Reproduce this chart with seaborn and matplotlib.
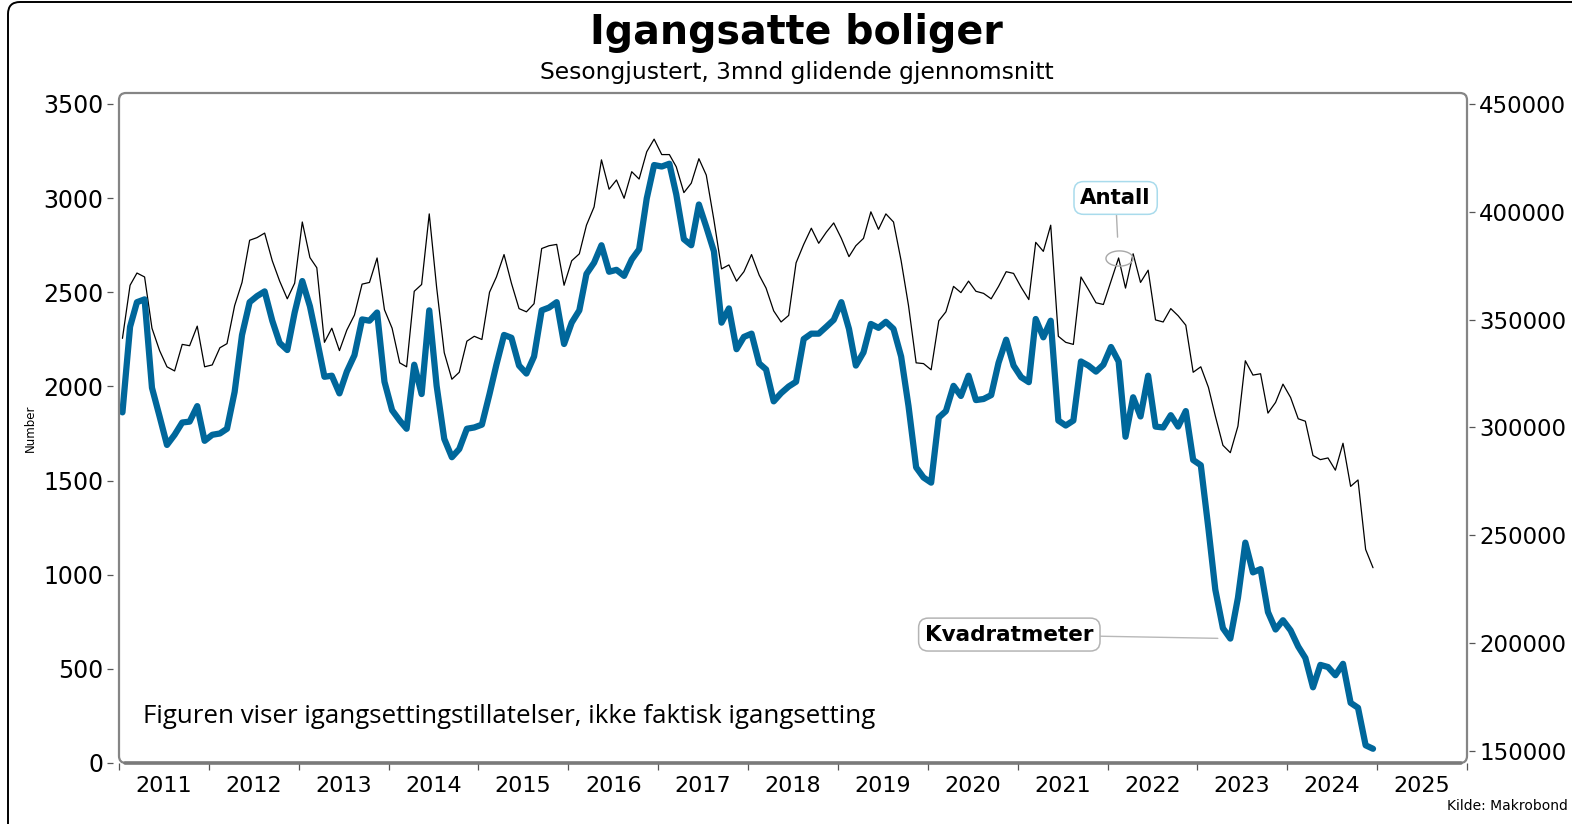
import numpy as np
import pandas as pd
import matplotlib
matplotlib.use("Agg")
import matplotlib.pyplot as plt
import matplotlib.dates as mdates
from matplotlib.patches import FancyBboxPatch
from matplotlib.path import Path
from matplotlib.ticker import NullFormatter
import seaborn as sns

# ---------------- data ----------------
start_month = "2011-01-01"
n_months = 168

antall = [
    2255, 2537, 2602, 2581, 2309, 2190, 2104, 2082, 2223, 2216, 2320, 2104,
    2114, 2205, 2227, 2429, 2552, 2776, 2790, 2814, 2667, 2559, 2465, 2548,
    2873, 2684, 2630, 2234, 2309, 2190, 2299, 2379, 2543, 2552, 2682, 2407,
    2309, 2125, 2104, 2505, 2541, 2916, 2526, 2179, 2038, 2075, 2240, 2266,
    2249, 2500, 2581, 2700, 2548, 2413, 2396, 2439, 2732, 2747, 2754, 2537,
    2667, 2704, 2856, 2953, 3203, 3047, 3096, 2999, 3140, 3101, 3246, 3313,
    3231, 3231, 3166, 3029, 3079, 3209, 3122, 2884, 2624, 2645, 2559, 2609,
    2700, 2591, 2522, 2401, 2342, 2377, 2656, 2754, 2840, 2760, 2819, 2868,
    2786, 2689, 2747, 2786, 2927, 2834, 2916, 2873, 2667, 2429, 2125, 2121,
    2088, 2348, 2396, 2531, 2498, 2559, 2505, 2494, 2465, 2531, 2609, 2600,
    2526, 2461, 2765, 2717, 2856, 2266, 2234, 2223, 2581, 2515, 2444, 2435,
    2559, 2682, 2522, 2704, 2552, 2617, 2353, 2342, 2413, 2375, 2325, 2075,
    2104, 1995, 1843, 1687, 1648, 1789, 2136, 2060, 2067, 1858, 1915, 2012,
    1941, 1828, 1815, 1633, 1611, 1620, 1555, 1698, 1469, 1503, 1134, 1037,
]

kvadratmeter = [
    307000, 346700, 358100, 359400, 318400, 305100, 291900, 296600, 302300, 302700, 309900, 293800,
    296600, 297200, 299400, 316500, 342900, 358100, 360900, 363100, 349500, 339200, 335900, 353300,
    367900, 356200, 341000, 323500, 324000, 315800, 325900, 333500, 350100, 349500, 353300, 321200,
    308000, 303200, 299400, 329100, 315500, 354300, 319300, 294700, 286200, 290000, 299400, 300000,
    301300, 315500, 329100, 342900, 341600, 328700, 325000, 332900, 354300, 355600, 358100, 338700,
    348600, 354300, 371200, 376400, 384500, 372200, 373100, 370300, 377900, 382600, 406200, 421700,
    421000, 422300, 408100, 387300, 384500, 403400, 393000, 381700, 348600, 355200, 336300, 342000,
    343500, 329700, 326900, 312100, 315900, 319000, 321200, 341000, 343500, 343500, 346700, 349900,
    358100, 345700, 328700, 334800, 348000, 346200, 349000, 345700, 332900, 309900, 281500, 276800,
    274400, 304600, 307600, 319300, 314600, 324000, 312700, 313200, 315000, 330000, 340700, 328700,
    323300, 321000, 350300, 341800, 349500, 303200, 300900, 303200, 330600, 328700, 325900, 329100,
    337300, 330600, 295700, 314000, 305100, 324000, 300400, 300000, 305700, 300400, 307600, 284900,
    282500, 253100, 224800, 206900, 202100, 221000, 246600, 232800, 234300, 214400, 206300, 210600,
    205900, 198400, 193100, 179500, 189900, 188900, 185100, 190400, 172300, 170000, 152600, 151000,
]

year_labels = [str(y) for y in range(2011, 2026)]
left_ticks = [0, 500, 1000, 1500, 2000, 2500, 3000, 3500]
right_ticks = [150000, 200000, 250000, 300000, 350000, 400000, 450000]

title = "Igangsatte boliger"
subtitle = "Sesongjustert, 3mnd glidende gjennomsnitt"
note = "Figuren viser igangsettingstillatelser, ikke faktisk igangsetting"
source = "Kilde: Makrobond"
antall_label_idx = 133
kvm_label_idx = 148

# ---------------- figure ----------------
sns.set_theme(style="white")
plt.rcParams["font.family"] = ["DejaVu Sans"]
plt.rcParams["text.color"] = "black"
plt.rcParams["axes.labelcolor"] = "black"
plt.rcParams["xtick.color"] = "black"
plt.rcParams["ytick.color"] = "black"

W, H = 15.72, 8.24
fig = plt.figure(figsize=(W, H), dpi=100)
fig.patch.set_facecolor("white")

ax_l, ax_b, ax_w, ax_h = 119 / 1572, 1 - 763 / 824, 1348 / 1572, 670 / 824
ax = fig.add_axes([ax_l, ax_b, ax_w, ax_h])

dates = pd.date_range(start_month, periods=n_months, freq="MS") + pd.Timedelta(days=14)
df = pd.DataFrame({"Dato": dates, "Antall": antall, "Kvadratmeter": kvadratmeter})

sns.lineplot(data=df, x="Dato", y="Antall", ax=ax, color="black", linewidth=0.9)
ax2 = ax.twinx()
sns.lineplot(data=df, x="Dato", y="Kvadratmeter", ax=ax2, color="#00679b", linewidth=4.5)

ax.set_xlim(pd.Timestamp("2011-01-01"), pd.Timestamp("2026-01-01"))
ax.set_ylim(0, 3558)
ax2.set_ylim(144400, 455100)

for a in (ax, ax2):
    for s in a.spines.values():
        s.set_visible(False)
    a.set_xlabel("")
    a.set_ylabel("")
    a.grid(False)

ax.set_facecolor("none")

# y ticks
ax.set_yticks(left_ticks)
ax.set_yticklabels([str(v) for v in left_ticks])
ax.spines["left"].set_position(("outward", 4))
ax.tick_params(axis="y", which="major", left=True, right=False, length=4.3, width=0.9,
               color="#555555", pad=3, labelsize=17, labelcolor="black", direction="out")
ax2.set_yticks(right_ticks)
ax2.set_yticklabels([str(v) for v in right_ticks])
ax2.spines["right"].set_position(("outward", 1.5))
ax2.tick_params(axis="y", which="major", right=True, left=False, length=4.3, width=0.9,
                color="#555555", pad=3, labelsize=16.5, labelcolor="black", direction="out")

# x ticks: boundaries as major, labels centred between them
ax.xaxis.set_major_locator(mdates.YearLocator())
ax.xaxis.set_major_formatter(NullFormatter())
ax.set_xticks([pd.Timestamp(f"{y}-07-02") for y in year_labels], minor=True)
ax.set_xticklabels(year_labels, minor=True)
ax.tick_params(axis="x", which="major", bottom=True, length=5, width=0.9, color="#555555",
               direction="out")
ax.tick_params(axis="x", which="minor", bottom=True, length=0, pad=9, labelsize=16,
               labelcolor="black")

# plot frame (rounded)
x0, y0 = ax_l * W, ax_b * H
frame = FancyBboxPatch((x0, y0), ax_w * W, ax_h * H,
                       boxstyle="round,pad=0,rounding_size=0.07",
                       transform=fig.dpi_scale_trans, fc="none", ec="#858585", lw=1.6,
                       zorder=5)
fig.add_artist(frame)
fig.add_artist(plt.Line2D([x0 + 0.06, x0 + ax_w * W - 0.06], [y0, y0],
                          transform=fig.dpi_scale_trans, color="#7a7a7a", lw=2.6, zorder=5))

# outer border
outer = FancyBboxPatch((0.08, -0.6), W + 0.5, H - 0.02 + 0.6,
                       boxstyle="round,pad=0,rounding_size=0.12",
                       transform=fig.dpi_scale_trans, fc="none", ec="black", lw=1.4,
                       zorder=6)
fig.add_artist(outer)

# texts
fig.text(0.5064, 0.9605, title, ha="center", va="center", fontsize=28.5, fontweight="bold",
         color="black")
fig.text(0.5067, 0.9126, subtitle, ha="center", va="center", fontsize=16.8, color="black")
fig.text(30 / 1572, 1 - 428 / 824, "Number", rotation=90, ha="center", va="center",
         fontsize=8.5, color="black")
fig.text(1568 / 1572, 1 - 806 / 824, source, ha="right", va="center", fontsize=10,
         color="black")
ax.text(0.0178, 0.0701, note, transform=ax.transAxes, ha="left", va="center",
        fontsize=18.6, family=["Open Sans", "DejaVu Sans"], color="black")

# annotation: Antall (ellipse marker + labelled box)
t = np.linspace(0, 2 * np.pi, 60)
ell = Path(np.column_stack([np.cos(t), 0.56 * np.sin(t)]))
ax.plot([dates[antall_label_idx]], [antall[antall_label_idx]], marker=ell, markersize=19.5,
        mfc="none", mec="#a8a8a8", mew=1.0, linestyle="none", zorder=4)
ax.annotate("Antall", xy=(dates[antall_label_idx], antall[antall_label_idx]),
            xytext=(-3, 60), textcoords="offset pixels", ha="center", va="center",
            fontsize=15.3, fontweight="bold", color="black",
            bbox=dict(boxstyle="round,pad=0.3,rounding_size=0.45", fc="white",
                      ec="#a9dbec", lw=1.1),
            arrowprops=dict(arrowstyle="-", color="#b0b0b0", lw=1.0, shrinkA=0, shrinkB=15))

ax2.annotate("Kvadratmeter", xy=(dates[kvm_label_idx], kvadratmeter[kvm_label_idx]),
             xytext=(-221, 4), textcoords="offset pixels", ha="center", va="center",
             fontsize=15.5, fontweight="bold", color="black",
             bbox=dict(boxstyle="round,pad=0.3,rounding_size=0.45", fc="white",
                       ec="#b4b4b4", lw=1.1),
             arrowprops=dict(arrowstyle="-", color="#b8b8b8", lw=1.0, shrinkA=0, shrinkB=9))

fig.savefig("out.png", dpi=100, facecolor="white")
